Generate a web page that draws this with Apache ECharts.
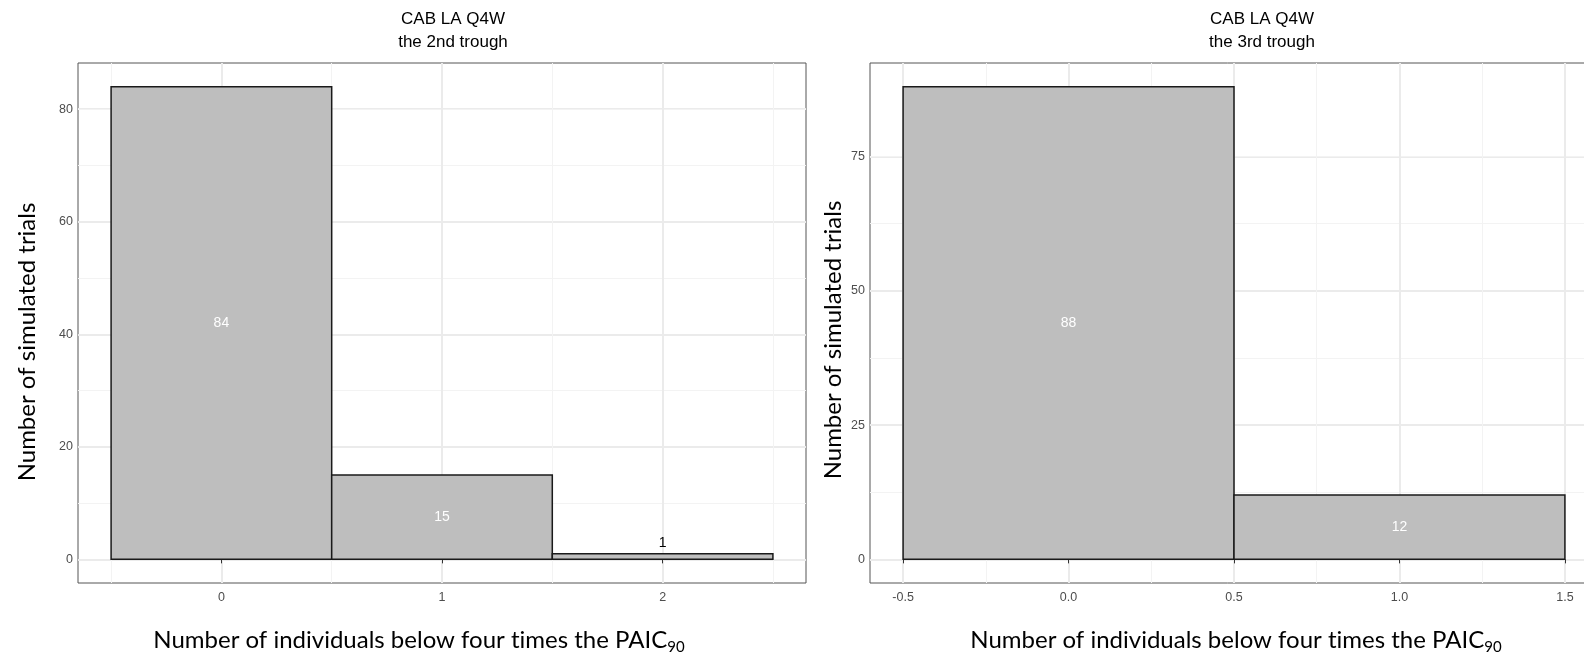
<!DOCTYPE html>
<html>
<head>
<meta charset="utf-8">
<script src="https://cdn.jsdelivr.net/npm/echarts@6/dist/echarts.min.js"></script>
<style>
  html, body { margin: 0; padding: 0; background: #fff; }
  #main { width: 1584px; height: 656px; }
</style>
</head>
<body>
<div id="main"></div>
<script>
// panel 1: CAB LA Q4W, 2nd trough
var leftBins = [0, 1, 2];
var leftCounts = [84, 15, 1];
var leftXTicks = [0, 1, 2];
var leftYTicks = [0, 20, 40, 60, 80];

// panel 2: CAB LA Q4W, 3rd trough
var rightBins = [0, 1];
var rightCounts = [88, 12];
var rightXTicks = [-0.5, 0, 0.5, 1, 1.5];
var rightYTicks = [0, 25, 50, 75];

function midpoints(ticks, step) {
  var out = [];
  for (var i = 0; i < ticks.length - 1; i++) out.push((ticks[i] + ticks[i + 1]) / 2);
  out.push(ticks[ticks.length - 1] + step / 2);
  if (step) out.unshift(ticks[0] - step / 2);
  return out;
}

var chartDom = document.getElementById('main');
var myChart = echarts.init(chartDom);
var option;

var tickFont = 'Liberation Sans, Arial, sans-serif';
var axisFont = 'Lato, sans-serif';

function renderBar(params, api) {
  var x = api.value(0);
  var n = api.value(1);
  var p0 = api.coord([x - 0.5, 0]);
  var p1 = api.coord([x + 0.5, n]);
  var mid = api.coord([x, n / 2]);
  var small = n < 5;
  return {
    type: 'group',
    children: [
      {
        type: 'rect',
        shape: { x: p0[0], y: p1[1], width: p1[0] - p0[0], height: p0[1] - p1[1] },
        style: { fill: '#bebebe', stroke: '#1a1a1a', lineWidth: 1.5 }
      },
      {
        type: 'text',
        style: {
          text: String(n),
          x: mid[0],
          y: small ? p1[1] - 11 : mid[1],
          align: 'center',
          verticalAlign: 'middle',
          fill: small ? '#000' : '#fff',
          font: '14px ' + tickFont
        }
      }
    ]
  };
}

function xAxes(gridIndex, min, max, ticks, minor, fmt) {
  return [
    {
      type: 'value', gridIndex: gridIndex, min: min, max: max,
      axisLine: { show: false },
      axisTick: { show: true, customValues: ticks, length: 4, lineStyle: { color: '#333', width: 1 } },
      axisLabel: {
        customValues: ticks, margin: 8, color: '#4d4d4d', fontSize: 12.5,
        fontFamily: tickFont, formatter: fmt
      },
      splitLine: { show: true, lineStyle: { color: '#ebebeb', width: 2 } }
    },
    {
      type: 'value', gridIndex: gridIndex, min: min, max: max, position: 'top',
      axisLine: { show: false },
      axisTick: { show: false, customValues: minor },
      axisLabel: { show: false },
      splitLine: { show: true, lineStyle: { color: '#f3f3f3', width: 1 } }
    }
  ];
}

function yAxes(gridIndex, min, max, ticks, minor) {
  return [
    {
      type: 'value', gridIndex: gridIndex, min: min, max: max,
      axisLine: { show: false },
      axisTick: { show: true, customValues: ticks, length: 4, lineStyle: { color: '#333', width: 1 } },
      axisLabel: { customValues: ticks, margin: 5, color: '#4d4d4d', fontSize: 12.5, fontFamily: tickFont },
      splitLine: { show: true, lineStyle: { color: '#ebebeb', width: 2 } }
    },
    {
      type: 'value', gridIndex: gridIndex, min: min, max: max, position: 'right',
      axisLine: { show: false },
      axisTick: { show: false, customValues: minor },
      axisLabel: { show: false },
      splitLine: { show: true, lineStyle: { color: '#f3f3f3', width: 1 } }
    }
  ];
}

// zero-width non-joiner keeps Lato from fusing "ti"
var xTitle = 'Number of individuals below four t\u200Cimes the PAIC{sub|90}';
var yTitle = 'Number of simulated t\u200Crials';
var xTitleRich = { sub: { fontSize: 15, fontFamily: axisFont, fill: '#000', padding: [14, 0, 0, 0] } };

option = {
  animation: false,
  backgroundColor: '#fff',
  grid: [
    { left: 78, top: 63, width: 728, height: 520, show: true, backgroundColor: '#fff',
      borderColor: '#555', borderWidth: 1, outerBoundsMode: 'none', containLabel: false },
    { left: 870, top: 63, width: 728, height: 520, show: true, backgroundColor: '#fff',
      borderColor: '#555', borderWidth: 1, outerBoundsMode: 'none', containLabel: false }
  ],
  xAxis: xAxes(0, -0.65, 2.65, leftXTicks, midpoints(leftXTicks, 1), function (v) { return String(v); })
    .concat(xAxes(1, -0.6, 1.6, rightXTicks, midpoints(rightXTicks, 0).slice(0, -1),
      function (v) { return v.toFixed(1); })),
  yAxis: yAxes(0, -4.2, 88.2, leftYTicks, midpoints(leftYTicks, 0))
    .concat(yAxes(1, -4.4, 92.4, rightYTicks, midpoints(rightYTicks, 0))),
  series: [
    {
      type: 'custom', xAxisIndex: 0, yAxisIndex: 0, renderItem: renderBar,
      data: leftBins.map(function (b, i) { return [b, leftCounts[i]]; }), z: 5
    },
    {
      type: 'custom', xAxisIndex: 2, yAxisIndex: 2, renderItem: renderBar,
      data: rightBins.map(function (b, i) { return [b, rightCounts[i]]; }), z: 5
    }
  ],
  graphic: [
    { type: 'text', x: 453, y: 31, style: { text: 'CAB LA Q4W\nthe 2nd trough', align: 'center',
      verticalAlign: 'middle', lineHeight: 23, font: '17px ' + tickFont, fill: '#000' } },
    { type: 'text', x: 1262, y: 31, style: { text: 'CAB LA Q4W\nthe 3rd trough', align: 'center',
      verticalAlign: 'middle', lineHeight: 23, font: '17px ' + tickFont, fill: '#000' } },
    { type: 'text', x: 27, y: 342, rotation: Math.PI / 2, style: { text: yTitle,
      align: 'center', verticalAlign: 'middle', font: '24px ' + axisFont, fill: '#000' } },
    { type: 'text', x: 833, y: 340, rotation: Math.PI / 2, style: { text: yTitle,
      align: 'center', verticalAlign: 'middle', font: '24px ' + axisFont, fill: '#000' } },
    { type: 'text', x: 419, y: 640, style: { text: xTitle, rich: xTitleRich, align: 'center',
      verticalAlign: 'middle', font: '24px ' + axisFont, fill: '#000' } },
    { type: 'text', x: 1236, y: 640, style: { text: xTitle, rich: xTitleRich, align: 'center',
      verticalAlign: 'middle', font: '24px ' + axisFont, fill: '#000' } }
  ]
};

option && myChart.setOption(option);
</script>
</body>
</html>
